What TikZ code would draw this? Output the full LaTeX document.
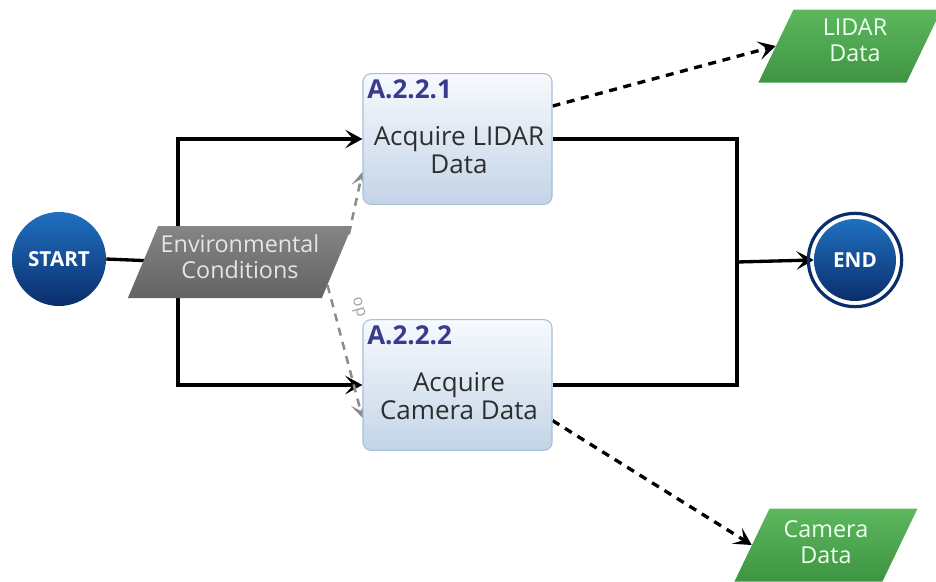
\documentclass[tikz,border=0pt]{standalone}
\usepackage{fontspec}
\setmainfont{Open Sans}
\usetikzlibrary{arrows.meta,calc}

\definecolor{termtop}{HTML}{2070C0}
\definecolor{termbot}{HTML}{0A2E6C}
\definecolor{boxtop}{HTML}{F7FAFD}
\definecolor{boxbot}{HTML}{C3D4E7}
\definecolor{boxedge}{HTML}{A7BFD8}
\definecolor{idcol}{HTML}{3B3B8E}
\definecolor{txtcol}{HTML}{2E2E2E}
\definecolor{envtop}{HTML}{858585}
\definecolor{envbot}{HTML}{636363}
\definecolor{greentop}{HTML}{5DB85E}
\definecolor{greenbot}{HTML}{3E9442}
\definecolor{optgray}{HTML}{8C8C8C}

\pgfdeclarelayer{background}
\pgfsetlayers{background,main}

\begin{document}
\begin{tikzpicture}[x=0.75pt,y=-0.75pt,
  terminal/.style={circle, minimum size=70.5pt, inner sep=0pt,
    top color=termtop, bottom color=termbot, text=white,
    font=\fontsize{15.5}{18}\selectfont\bfseries},
  endring/.style={draw=termbot, line width=2.4pt},
  task/.style={rectangle, rounded corners=6pt, draw=boxedge, line width=0.8pt,
    top color=boxtop, bottom color=boxbot, minimum width=141.75pt, minimum height=98pt},
  taskid/.style={inner sep=0pt, text=idcol, font=\fontsize{19.5}{21}\selectfont\bfseries},
  tasktext/.style={inner sep=0pt, align=center, text=txtcol,
    font=\fontsize{19.5}{20.5}\selectfont},
  % slanted rectangles for data objects
  envdata/.style={rectangle, xslant=0.42, minimum width=145.5pt, minimum height=54pt,
    inner sep=0pt, top color=envtop, bottom color=envbot},
  outdata/.style={rectangle, xslant=0.48, minimum width=111pt, minimum height=54.75pt,
    inner sep=0pt, top color=greentop, bottom color=greenbot},
  datatext/.style={inner sep=0pt, align=center, font=\fontsize{17.5}{19.5}\selectfont},
  flowline/.style={draw=black, line width=2.5pt},
  flowtip/.style={flowline, -{Stealth[length=13pt,width=14pt,inset=6pt]}},
  dataline/.style={flowtip, dash pattern=on 6pt off 5pt},
  optline/.style={draw=optgray, line width=1.9pt, dash pattern=on 6pt off 5pt,
    -{Stealth[length=11pt,width=12pt,inset=5.5pt]}},
  optlabel/.style={text=optgray!80, inner sep=0pt, font=\fontsize{12}{14}\selectfont}
]
\useasboundingbox (0,0) rectangle (936,582);

% start and end terminals
\node[terminal] (start) at (59,259) {START};
\node[terminal, minimum size=61.5pt] (end) at (855,260) {END};
\draw[endring] (end.center) circle[radius=35pt];

% the two acquisition tasks
\node[task] (lidartask) at (457.5,139) {};
\node[taskid, anchor=base west] (lidarid) at (367,98) {A.2.2.1};
\node[tasktext] (lidartxt) at (459,150) {Acquire LIDAR\\Data};

\node[task] (camtask) at (457.5,385) {};
\node[taskid, anchor=base west] (camid) at (367,344) {A.2.2.2};
\node[tasktext] (camtxt) at (459,396) {Acquire\\Camera Data};

% data objects
\node[envdata] (env) at (240,262) {};
\node[datatext, text=white!90!black] (envtxt) at (240,257) {Environmental\\Conditions};
\node[outdata] (lidardata) at (850,46) {};
\node[datatext, text=white!93!green] (lidartxt2) at (855,40) {LIDAR\\Data};
\node[outdata] (camdata) at (826,545) {};
\node[datatext, text=white!93!green] (camtxt2) at (826,542) {Camera\\Data};

% junction points of the control flow
\coordinate (split) at (178,262);
\coordinate (join) at (737,262);

\begin{pgfonlayer}{background}
  % control flow
  \draw[flowline] (start.east) -- (split);
  \draw[flowtip] (split) |- (lidartask.west);
  \draw[flowtip] (split) |- (camtask.west);
  \draw[flowline] (lidartask.east) -| (join);
  \draw[flowline] (camtask.east) -| (join);
  \draw[flowtip] (join) -- (end.west);

  % produced data
  \draw[dataline] ($(lidartask.north east)!0.25!(lidartask.south east)$) -- (lidardata.west);
  \draw[dataline] ($(camtask.north east)!0.77!(camtask.south east)$) -- (camdata.west);

  % environmental conditions feeding both tasks
  \draw[optline] ($(env.north east)!0.12!(env.south east)$)
     -- ($(lidartask.north west)!0.75!(lidartask.south west)$);
  \draw[optline] ($(env.north east)!0.82!(env.south east)$)
     -- ($(camtask.north west)!0.75!(camtask.south west)$);
  \node[optlabel, rotate=-74.5, anchor=west] (optlbl) at (355,298) {op};
\end{pgfonlayer}
\end{tikzpicture}
\end{document}
